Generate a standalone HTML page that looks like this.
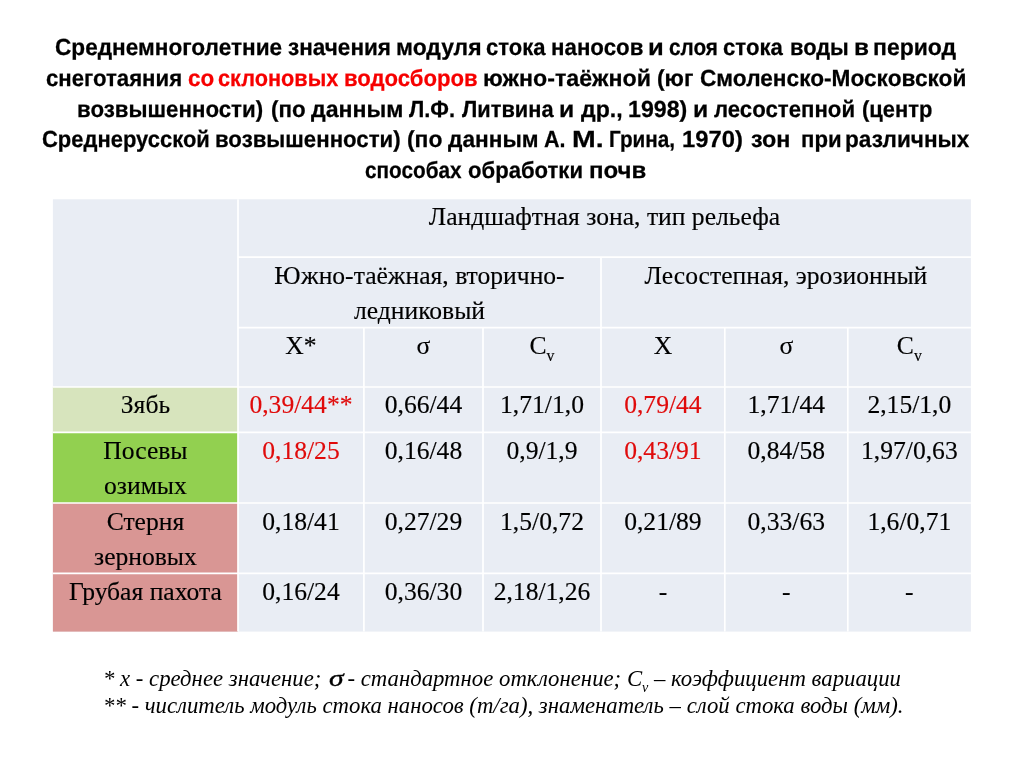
<!DOCTYPE html>
<html lang="ru">
<head>
<meta charset="utf-8">
<title>Среднемноголетние значения модуля стока наносов</title>
<style>
html,body{margin:0;padding:0;background:#fff;}
body{width:1024px;height:768px;position:relative;overflow:hidden;font-family:"Liberation Serif",serif;color:#000;}
.t{position:absolute;left:0;width:1024px;height:30px;white-space:pre;font-family:"Liberation Sans",sans-serif;font-weight:bold;font-size:23.3px;line-height:30px;text-rendering:geometricPrecision;-webkit-text-stroke:0.25px;}
.t span{position:absolute;top:0;display:block;transform-origin:0 0;}
.t .red{color:#f60000;}
#grid{position:absolute;left:0;top:0;}
.c{position:absolute;box-sizing:border-box;text-align:center;font-size:25.6px;line-height:35px;white-space:nowrap;-webkit-text-stroke:0.15px;}
.r{color:#e00b0b;}
.f{position:absolute;white-space:nowrap;font-style:italic;font-size:22.76px;line-height:27.3px;}
sub{font-size:62%;vertical-align:baseline;position:relative;top:0.43em;line-height:0;}
.sg{display:inline-block;-webkit-text-stroke:0.35px #000;transform:scaleX(1.3);transform-origin:0 50%;margin:0 2px 0 1.5px;}
</style>
</head>
<body>
<div class="t" style="top:32.13px"><span style="left:55.13px;transform:scaleX(0.9707)">Среднемноголетние </span><span style="left:287.53px;transform:scaleX(0.9673)">значения </span><span style="left:395.93px;transform:scaleX(0.9831)">модуля </span><span style="left:486.35px;transform:scaleX(0.9452)">стока </span><span style="left:550.79px;transform:scaleX(0.9574)">наносов </span><span style="left:648.30px;transform:scaleX(1.1000)">и </span><span style="left:669.21px;transform:scaleX(0.8904)">слоя </span><span style="left:722.85px;transform:scaleX(0.9516)">стока </span><span style="left:789.72px;transform:scaleX(0.9390)">воды </span><span style="left:854.41px;transform:scaleX(1.0455)">в </span><span style="left:873.33px;transform:scaleX(0.9866)">период</span></div>
<div class="t" style="top:62.83px"><span style="left:45.75px;transform:scaleX(0.9518)">снеготаяния </span><span class="red" style="left:187.74px;transform:scaleX(0.9640)">со </span><span class="red" style="left:217.67px;transform:scaleX(0.9320)">склоновых </span><span class="red" style="left:344.20px;transform:scaleX(0.9500)">водосборов </span><span style="left:483.01px;transform:scaleX(0.9964)">южно-таёжной </span><span style="left:656.82px;transform:scaleX(0.9750)">(юг </span><span style="left:699.73px;transform:scaleX(0.9731)">Смоленско-Московской</span></div>
<div class="t" style="top:93.53px"><span style="left:77.49px;transform:scaleX(0.9565)">возвышенности) </span><span style="left:270.54px;transform:scaleX(0.9588)">(по </span><span style="left:311.40px;transform:scaleX(0.9934)">данным </span><span style="left:409.30px;transform:scaleX(0.9354)">Л.Ф. </span><span style="left:461.90px;transform:scaleX(0.9367)">Литвина </span><span style="left:559.37px;transform:scaleX(1.0636)">и </span><span style="left:581.00px;transform:scaleX(0.9900)">др., </span><span style="left:628.41px;transform:scaleX(0.9947)">1998) </span><span style="left:692.77px;transform:scaleX(1.0636)">и </span><span style="left:714.40px;transform:scaleX(0.9527)">лесостепной </span><span style="left:862.06px;transform:scaleX(0.9411)">(центр</span></div>
<div class="t" style="top:124.23px"><span style="left:41.86px;transform:scaleX(0.9434)">Среднерусской </span><span style="left:214.79px;transform:scaleX(0.9539)">возвышенности) </span><span style="left:407.02px;transform:scaleX(0.9824)">(по </span><span style="left:448.20px;transform:scaleX(0.9736)">данным </span><span style="left:543.78px;transform:scaleX(0.9238)">А. </span><span style="left:572.15px;transform:scaleX(1.2227)">М. </span><span style="left:608.52px;transform:scaleX(0.8887)">Грина, </span><span style="left:681.78px;transform:scaleX(1.0211)">1970) </span><span style="left:750.50px;transform:scaleX(1.0027)">зон  </span><span style="left:800.90px;transform:scaleX(0.9513)">при </span><span style="left:845.26px;transform:scaleX(0.9698)">различных</span></div>
<div class="t" style="top:154.98px"><span style="left:364.71px;transform:scaleX(0.8907)">способах </span><span style="left:468.15px;transform:scaleX(0.9487)">обработки </span><span style="left:588.74px;transform:scaleX(1.0321)">почв</span></div>
<svg id="grid" width="1024" height="768" viewBox="0 0 1024 768">
<rect x="52.9" y="199.3" width="918.0" height="432.3" fill="#e9edf4"/>
<rect x="52.9" y="387" width="185.1" height="45.4" fill="#d7e4bd"/>
<rect x="52.9" y="432.4" width="185.1" height="70.6" fill="#92d050"/>
<rect x="52.9" y="503" width="185.1" height="128.6" fill="#d99694"/>
<g stroke="#fff" stroke-width="1.7" fill="none">
<line x1="238" y1="199.3" x2="238" y2="631.6"/>
<line x1="601" y1="257.2" x2="601" y2="631.6"/>
<line x1="363.9" y1="327.6" x2="363.9" y2="631.6"/>
<line x1="483" y1="327.6" x2="483" y2="631.6"/>
<line x1="724.8" y1="327.6" x2="724.8" y2="631.6"/>
<line x1="847.8" y1="327.6" x2="847.8" y2="631.6"/>
<line x1="238" y1="257.2" x2="970.9" y2="257.2"/>
<line x1="238" y1="327.6" x2="970.9" y2="327.6"/>
<line x1="52.9" y1="387" x2="970.9" y2="387"/>
<line x1="52.9" y1="432.4" x2="970.9" y2="432.4"/>
<line x1="52.9" y1="503" x2="970.9" y2="503"/>
<line x1="52.9" y1="573.4" x2="970.9" y2="573.4"/>
</g></svg>
<div id="tbl">
<div class="c" style="left:238px;top:199px;width:732.9px;">Ландшафтная зона, тип рельефа</div>
<div class="c" style="left:238px;top:258px;width:363px;">Южно-таёжная, вторично-<br>ледниковый</div>
<div class="c" style="left:601px;top:258px;width:369.9px;">Лесостепная, эрозионный</div>
<div class="c" style="left:238px;top:328px;width:125.9px;">X*</div>
<div class="c" style="left:363.9px;top:328px;width:119.1px;">σ</div>
<div class="c" style="left:483px;top:328px;width:118px;">C<sub>v</sub></div>
<div class="c" style="left:601px;top:328px;width:123.8px;">X</div>
<div class="c" style="left:724.8px;top:328px;width:123.0px;">σ</div>
<div class="c" style="left:847.8px;top:328px;width:123.1px;">C<sub>v</sub></div>
<div class="c" style="left:52.9px;top:387px;width:185.1px;">Зябь</div>
<div class="c r" style="left:238px;top:387px;width:125.9px;">0,39/44**</div>
<div class="c" style="left:363.9px;top:387px;width:119.1px;">0,66/44</div>
<div class="c" style="left:483px;top:387px;width:118px;">1,71/1,0</div>
<div class="c r" style="left:601px;top:387px;width:123.8px;">0,79/44</div>
<div class="c" style="left:724.8px;top:387px;width:123.0px;">1,71/44</div>
<div class="c" style="left:847.8px;top:387px;width:123.1px;">2,15/1,0</div>
<div class="c" style="left:52.9px;top:433px;width:185.1px;">Посевы<br>озимых</div>
<div class="c r" style="left:238px;top:433px;width:125.9px;">0,18/25</div>
<div class="c" style="left:363.9px;top:433px;width:119.1px;">0,16/48</div>
<div class="c" style="left:483px;top:433px;width:118px;">0,9/1,9</div>
<div class="c r" style="left:601px;top:433px;width:123.8px;">0,43/91</div>
<div class="c" style="left:724.8px;top:433px;width:123.0px;">0,84/58</div>
<div class="c" style="left:847.8px;top:433px;width:123.1px;">1,97/0,63</div>
<div class="c" style="left:52.9px;top:504px;width:185.1px;">Стерня<br>зерновых</div>
<div class="c" style="left:238px;top:504px;width:125.9px;">0,18/41</div>
<div class="c" style="left:363.9px;top:504px;width:119.1px;">0,27/29</div>
<div class="c" style="left:483px;top:504px;width:118px;">1,5/0,72</div>
<div class="c" style="left:601px;top:504px;width:123.8px;">0,21/89</div>
<div class="c" style="left:724.8px;top:504px;width:123.0px;">0,33/63</div>
<div class="c" style="left:847.8px;top:504px;width:123.1px;">1,6/0,71</div>
<div class="c" style="left:52.9px;top:574px;width:185.1px;">Грубая пахота</div>
<div class="c" style="left:238px;top:574px;width:125.9px;">0,16/24</div>
<div class="c" style="left:363.9px;top:574px;width:119.1px;">0,36/30</div>
<div class="c" style="left:483px;top:574px;width:118px;">2,18/1,26</div>
<div class="c" style="left:601px;top:574px;width:123.8px;">-</div>
<div class="c" style="left:724.8px;top:574px;width:123.0px;">-</div>
<div class="c" style="left:847.8px;top:574px;width:123.1px;">-</div>
</div>

<div class="f" style="left:103px;top:665px;" id="f1">* x - среднее значение; <span class="sg">σ</span> - стандартное отклонение; C<sub>v</sub> – коэффициент вариации</div>
<div class="f" style="left:103px;top:692.3px;" id="f2">** - числитель модуль стока наносов (т/га), знаменатель – слой стока воды (мм).</div>
</body>
</html>
